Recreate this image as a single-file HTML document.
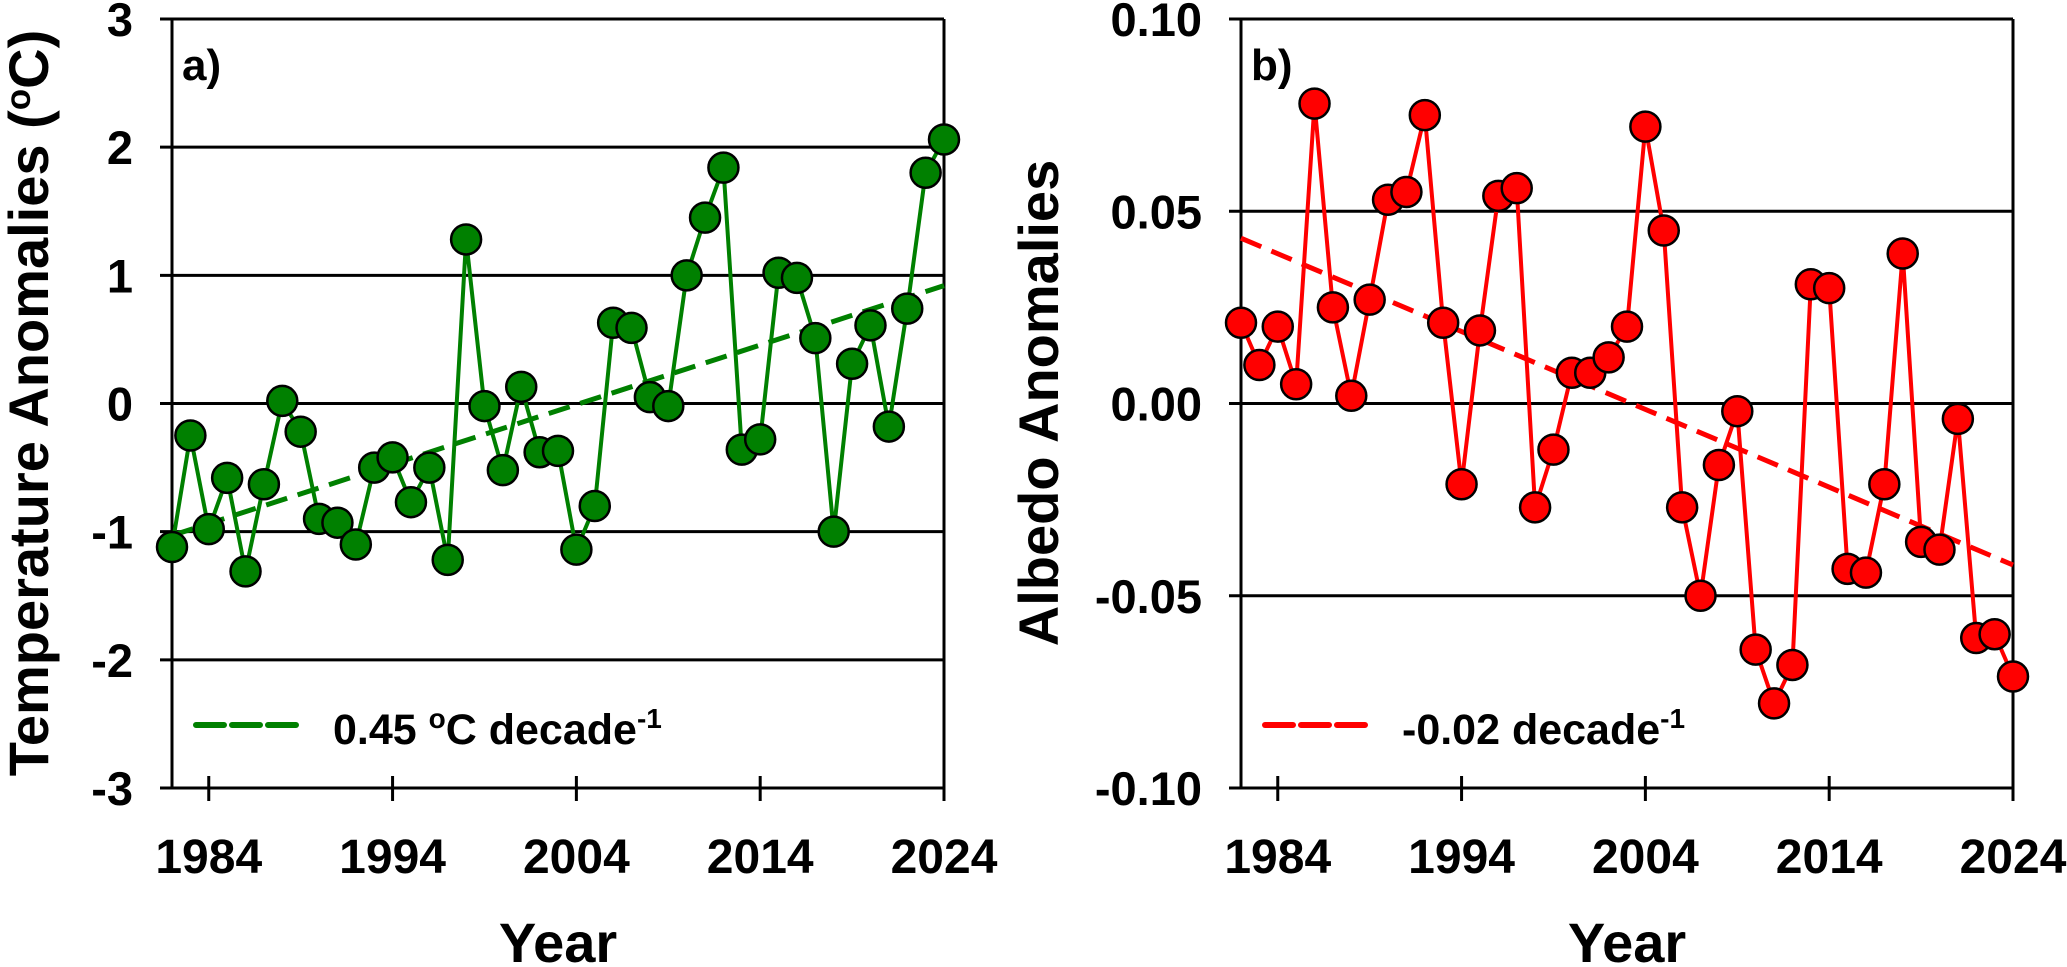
<!DOCTYPE html>
<html><head><meta charset="utf-8"><style>
html,body{margin:0;padding:0;background:#fff;}
svg{display:block;font-family:"Liberation Sans",Arial,sans-serif;font-weight:bold;}
</style></head><body>
<svg id="chart" width="2067" height="967" viewBox="0 0 2067 967" xmlns="http://www.w3.org/2000/svg"></svg>
<script>
const years = [1982,1983,1984,1985,1986,1987,1988,1989,1990,1991,1992,1993,1994,1995,1996,1997,1998,1999,2000,2001,2002,2003,2004,2005,2006,2007,2008,2009,2010,2011,2012,2013,2014,2015,2016,2017,2018,2019,2020,2021,2022,2023,2024];
const tempValues = [-1.12,-0.25,-0.98,-0.58,-1.31,-0.63,0.02,-0.22,-0.90,-0.93,-1.10,-0.50,-0.42,-0.77,-0.50,-1.22,1.28,-0.02,-0.52,0.13,-0.38,-0.37,-1.14,-0.80,0.63,0.59,0.05,-0.02,1.00,1.45,1.84,-0.36,-0.28,1.02,0.98,0.51,-1.00,0.31,0.61,-0.18,0.74,1.80,2.06];
const albedoValues = [0.021,0.010,0.020,0.005,0.078,0.025,0.002,0.027,0.053,0.055,0.075,0.021,-0.021,0.019,0.054,0.056,-0.027,-0.012,0.008,0.008,0.012,0.020,0.072,0.045,-0.027,-0.050,-0.016,-0.002,-0.064,-0.078,-0.068,0.031,0.030,-0.043,-0.044,-0.021,0.039,-0.036,-0.038,-0.004,-0.061,-0.060,-0.071];
const tempTrend = [-1.03, 0.92];
const albedoTrend = [0.043, -0.042];
const xTicks = [1984,1994,2004,2014,2024];
const tempYTicks = [3,2,1,0,-1,-2,-3];
const tempYLabels = ["3","2","1","0","-1","-2","-3"];
const albedoYTicks = [0.10,0.05,0,-0.05,-0.10];
const albedoYLabels = ["0.10","0.05","0.00","-0.05","-0.10"];

const NS="http://www.w3.org/2000/svg";
const svg=document.getElementById('chart');
function el(tag,attrs,parent,text){const e=document.createElementNS(NS,tag);for(const k in attrs)e.setAttribute(k,attrs[k]);if(text!==undefined)e.textContent=text;(parent||svg).appendChild(e);return e;}

function panel(opt){
  const g=el('g',{});
  
  
  const L=opt.left,R=opt.right,T=19,B=788;
  const xs=y=>L+(y-1982)/(2024-1982)*(R-L);
  const ys=v=>B-(v-opt.ymin)/(opt.ymax-opt.ymin)*(B-T);
  opt.yTicks.forEach((v,i)=>{
    const y=ys(v);
    const gl=el('line',{x1:L-12,x2:R,y1:y,y2:y,stroke:'#000','stroke-width':3},g);
    
    
    const t=el('text',{x:L-39,y:y+17,'text-anchor':'end','font-size':47},g,opt.yLabels[i]);
    
    
  });
  const lf=el('line',{x1:L,x2:L,y1:T,y2:B,stroke:'#000','stroke-width':3},g);
  
  
  const rf=el('line',{x1:R,x2:R,y1:T,y2:B,stroke:'#000','stroke-width':3},g);
  
  
  xTicks.forEach(yr=>{
    const x=xs(yr);
    const tk=el('line',{x1:x,x2:x,y1:B-12,y2:B+13,stroke:'#000','stroke-width':3},g);
    
    
    const t=el('text',{x:x,y:873,'text-anchor':'middle','font-size':48},g,String(yr));
    
    
  });
  const tr=el('line',{x1:xs(1982),y1:ys(opt.trend[0]),x2:xs(2024),y2:ys(opt.trend[1]),stroke:opt.color,'stroke-width':5,'stroke-dasharray':'22,11'},g);
  
  
  const pts=years.map((yr,i)=>xs(yr)+','+ys(opt.values[i])).join(' ');
  const pl=el('polyline',{points:pts,fill:'none',stroke:opt.color,'stroke-width':4},g);
  
  
  years.forEach((yr,i)=>{
    const c=el('circle',{cx:xs(yr),cy:ys(opt.values[i]),r:15,fill:opt.color,stroke:'#000','stroke-width':2.5},g);
    
    
  });
  const pn=el('text',{x:L+10,y:80,'font-size':44},g,opt.tag);
  
  
  const lg=el('g',{},g);
  
  
  el('line',{x1:L+24,x2:L+124,y1:725,y2:725,stroke:opt.color,'stroke-width':6,'stroke-dasharray':'28,8','stroke-linecap':'round'},lg);
  const lt=el('text',{x:L+161,y:744,'font-size':43},lg);
  lt.innerHTML=opt.legend;
  const xt=el('text',{x:(L+R)/2,y:962,'text-anchor':'middle','font-size':56},g,'Year');
  
  
  const yt=el('text',{x:0,y:0,'text-anchor':'middle','font-size':56,transform:'translate('+opt.ytx+',403) rotate(-90)'},g);
  yt.innerHTML=opt.ytitle;
  
  
}
panel({name:'temperature-panel',left:172,right:944,ymin:-3,ymax:3,yTicks:tempYTicks,yLabels:tempYLabels,values:tempValues,trend:tempTrend,color:'#008000',tag:'a)',
  legend:'0.45 <tspan dy="-16" font-size="28">o</tspan><tspan dy="16">C decade</tspan><tspan dy="-16" font-size="28">-1</tspan>',
  ytx:48,ytitle:'Temperature Anomalies (<tspan dy="-18" font-size="35">o</tspan><tspan dy="18">C)</tspan>'});
panel({name:'albedo-panel',left:1241,right:2013,ymin:-0.1,ymax:0.1,yTicks:albedoYTicks,yLabels:albedoYLabels,values:albedoValues,trend:albedoTrend,color:'#ff0000',tag:'b)',
  legend:'-0.02 decade<tspan dy="-16" font-size="28">-1</tspan>',
  ytx:1058,ytitle:'Albedo Anomalies'});
</script>
</body></html>
